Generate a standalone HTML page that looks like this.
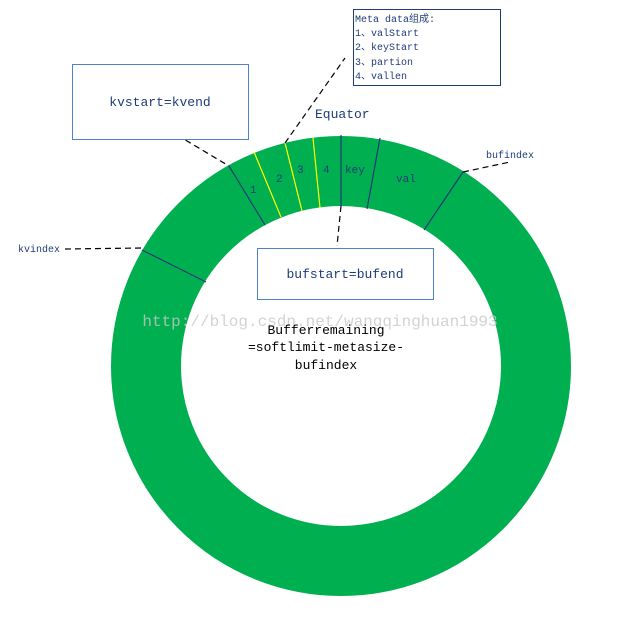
<!DOCTYPE html>
<html><head><meta charset="utf-8"><style>
html,body{margin:0;padding:0;background:#fff;width:623px;height:618px;overflow:hidden}
svg{display:block}
text{font-family:"Liberation Mono","Noto Sans CJK SC",monospace}
</style></head><body>
<svg width="623" height="618" viewBox="0 0 623 618" xmlns="http://www.w3.org/2000/svg">
<circle cx="341" cy="366" r="195" fill="none" stroke="#00b050" stroke-width="70"/>
<g stroke="#1f3c78" stroke-width="1.2">
<line x1="229" y1="166" x2="265" y2="225"/>
<line x1="341" y1="135" x2="341" y2="206"/>
<line x1="380" y1="138" x2="367" y2="209"/>
<line x1="463" y1="172" x2="424" y2="230"/>
<line x1="142" y1="250" x2="206" y2="282"/>
</g>
<g stroke="#ffff00" stroke-width="1.2">
<line x1="254" y1="152" x2="281" y2="217"/>
<line x1="285" y1="143" x2="302" y2="211"/>
<line x1="313" y1="138" x2="320" y2="208"/>
</g>
<g stroke="#000" stroke-width="1.2" stroke-dasharray="6,4" fill="none">
<line x1="177" y1="135" x2="229" y2="166"/>
<line x1="285" y1="143" x2="345" y2="58"/>
<line x1="463" y1="172" x2="510" y2="162"/>
<line x1="65" y1="249" x2="142" y2="248"/>
<line x1="341" y1="206" x2="337" y2="246"/>
</g>
<rect x="72.5" y="64.5" width="176" height="75" fill="#fff" stroke="#4f81c8"/>
<rect x="257.5" y="248.5" width="176" height="51" fill="#fff" stroke="#4f81c8"/>
<rect x="353.5" y="9.5" width="147" height="76" fill="#fff" stroke="#1f3c78"/>
<g fill="#1f3c78" font-size="13">
<text x="160" y="106" text-anchor="middle">kvstart=kvend</text>
<text x="345" y="278" text-anchor="middle">bufstart=bufend</text>
<text x="315" y="118">Equator</text>
</g>
<g fill="#1f3c78" font-size="11">
<text x="250" y="193">1</text>
<text x="276" y="182">2</text>
<text x="297" y="173">3</text>
<text x="323" y="173">4</text>
<text x="345" y="173">key</text>
<text x="396" y="182">val</text>
</g>
<g fill="#1f3c78" font-size="10">
<text x="486" y="158">bufindex</text>
<text x="18" y="252">kvindex</text>
<text x="355" y="22">Meta data组成:</text>
<text x="355" y="36">1、valStart</text>
<text x="355" y="50">2、keyStart</text>
<text x="355" y="65">3、partion</text>
<text x="355" y="79">4、vallen</text>
</g>
<text x="320" y="326" font-size="16" fill="#c8c8c8" fill-opacity="0.8" text-anchor="middle" font-family="Liberation Serif,serif">http://blog.csdn.net/wangqinghuan1993</text>
<g fill="#000" font-size="13" text-anchor="middle">
<text x="326" y="334">Bufferremaining</text>
<text x="326" y="351">=softlimit-metasize-</text>
<text x="326" y="369">bufindex</text>
</g>
</svg>
</body></html>
